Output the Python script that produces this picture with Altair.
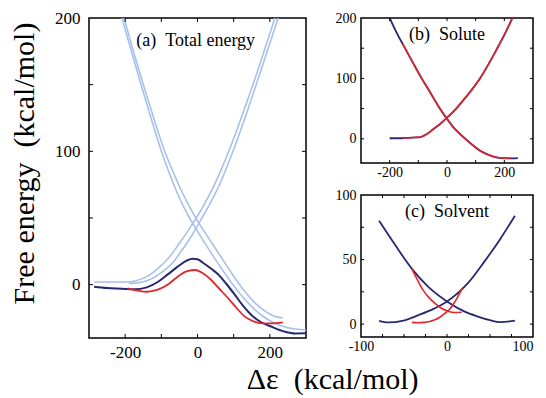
import altair as alt
import pandas as pd

FONT = "Liberation Serif"
NAVY = "#28286f"
RED = "#e2262b"
LIGHT = "#a8c0ec"

# ---------------- Panel (a): total energy ----------------
a_lb1_x = [-286, -240, -200, -170, -140, -110, -80, -50, -20, 10, 47, 85, 130, 172, 214]
a_lb1_y = [2, 2, 2, 3, 6, 12, 20, 31, 43, 56, 75, 99, 132, 165, 200]
a_lb2_x = [-190, -160, -130, -100, -70, -45, -20, 10, 35, 61, 98, 140, 182, 223]
a_lb2_y = [1, 1.5, 4, 9, 16, 25, 35, 49, 61, 75, 100, 132, 166, 200]
a_lb3_x = [-209, -180, -155, -128, -101, -75, -50, -25, 0, 20, 42, 68, 94, 120, 150, 180, 210, 240, 270, 300]
a_lb3_y = [200, 172.5, 149, 124.5, 101, 81.5, 65, 51.5, 40, 31.3, 22, 11.5, 1.5, -7.5, -16.5, -23.5, -28.5, -31.5, -33.3, -34]
a_lb4_x = [-203, -175, -148, -120, -92, -65, -40, -15, 10, 33, 56, 84, 111, 135, 160, 185, 210, 236]
a_lb4_y = [200, 173, 148.5, 124, 101, 83, 68, 55, 43.5, 34, 24.5, 13, 2, -6.5, -14, -19.5, -23.5, -25]
a_navy_x = [-286, -250, -210, -175, -140, -110, -83, -55, -30, -14, 0, 20, 40, 56, 80, 103, 125, 149, 175, 205, 242, 270, 300]
a_navy_y = [-1.5, -2.5, -3, -3.5, -2, 2, 7.5, 13.5, 18, 19.5, 19, 15.5, 11.5, 8, 0.5, -7.5, -15.5, -22.7, -28, -31.6, -35.3, -36.6, -36.5]
a_red_x = [-194, -165, -139, -120, -101, -80, -55, -30, -6, 15, 38, 60, 84, 108, 131, 155, 177, 205, 236]
a_red_y = [-2.8, -4.5, -5.3, -4.5, -2.8, 0.5, 6, 10, 11, 8.5, 3.5, -3, -10, -17.5, -24, -27.5, -29, -29, -28.3]

# ---------------- Panel (b): solute ----------------
b_up_x = [-200, -170, -140, -110, -92, -70, -46, -23, 0, 28, 57, 86, 115, 143, 172, 200, 228]
b_up_y = [1, 1, 1.5, 2.3, 3, 8, 16.7, 25, 35, 48, 64, 81, 100, 122, 147, 172, 200]
b_dn_x = [-200, -175, -150, -120, -92, -60, -30, 0, 28, 57, 86, 115, 145, 172, 200, 225, 247]
b_dn_y = [200, 175, 153, 127, 103, 78, 54, 33, 16, 3, -9, -19.5, -26.5, -30.5, -32, -32.5, -32]
b_red_up_x = [-155, -140, -110, -92, -70, -46, -23, 0, 28, 57, 86, 115, 143, 172, 200, 228]
b_red_up_y = [1.2, 1.5, 2.3, 3, 8, 16.7, 25, 35, 48, 64, 81, 100, 122, 147, 172, 200]
b_red_dn_x = [-155, -150, -120, -92, -60, -30, 0, 28, 57, 86, 115, 145, 172, 200, 222]
b_red_dn_y = [157, 153, 127, 103, 78, 54, 33, 16, 3, -9, -19.5, -26.5, -30.5, -32, -32]

# ---------------- Panel (c): solvent ----------------
c_dn_x = [-79, -60, -41, -22, 0, 20, 35, 50, 62, 79]
c_dn_y = [80, 61, 43, 29, 17.5, 9.8, 6, 3, 1.5, 2.7]
c_up_x = [-79, -68, -52, -33, -15, 0, 24, 43, 62, 79]
c_up_y = [2.5, 1.3, 2.5, 7, 12, 17.5, 31.5, 48, 66, 84]
c_red1_x = [-41, -35, -28, -21, -14, -7, -1, 8, 17]
c_red1_y = [43, 35, 26.5, 20.5, 16, 12.5, 10.5, 9, 9.2]
c_red2_x = [-41, -34, -27, -20, -14, -8, -2, 3, 7, 12, 18]
c_red2_y = [1.3, 1, 1.3, 2, 3.3, 5.5, 8.5, 11.5, 15, 20.5, 28]

LABEL_EXPR = "'' + datum.value"


def make_panel(series, xdom, ydom, w, h, xlab, ylab, xtk, ytk, label, lx, ly,
               lab_size, lab_pad_x, lab_pad_y, tick_len, ytitle=None, ytitle_y=None,
               title_pad=0, x_align=None):
    xs = alt.Scale(domain=xdom, nice=False, zero=False)
    ys = alt.Scale(domain=ydom, nice=False, zero=False)
    xargs = dict(values=xlab, title=None, labelFontSize=lab_size, labelFlush=False,
                 labelPadding=lab_pad_x, labelExpr=LABEL_EXPR, labelFont=FONT)
    if x_align is not None:
        xargs["labelAlign"] = x_align
    xaxis = alt.Axis(**xargs)
    yargs = dict(values=ylab, labelFontSize=lab_size, labelPadding=lab_pad_y,
                 labelFlush=False, labelExpr=LABEL_EXPR, labelFont=FONT)
    if ytitle:
        yargs.update(title=ytitle, titleFontSize=30, titleFont=FONT,
                     titleFontWeight="normal", titlePadding=title_pad, titleY=ytitle_y)
    else:
        yargs.update(title=None)
    yaxis = alt.Axis(**yargs)

    layers = []
    for xv, yv, color, sw in series:
        df = pd.DataFrame({"x": xv, "y": yv})
        layers.append(
            alt.Chart(df).mark_line(color=color, strokeWidth=sw, clip=True,
                                    interpolate="monotone").encode(
                x=alt.X("x:Q", scale=xs, axis=xaxis),
                y=alt.Y("y:Q", scale=ys, axis=yaxis),
            )
        )
    xt = pd.DataFrame({"v": xtk})
    yt = pd.DataFrame({"v": ytk})
    for y0, y1 in [(h, h - tick_len), (0, tick_len)]:
        layers.append(alt.Chart(xt).mark_rule(color="black", strokeWidth=1).encode(
            x=alt.X("v:Q", scale=xs, axis=xaxis), y=alt.value(y0), y2=alt.value(y1)))
    for x0, x1 in [(0, tick_len), (w, w - tick_len)]:
        layers.append(alt.Chart(yt).mark_rule(color="black", strokeWidth=1).encode(
            y=alt.Y("v:Q", scale=ys, axis=yaxis), x=alt.value(x0), x2=alt.value(x1)))
    ldf = pd.DataFrame({"x": [lx], "y": [ly], "t": [label]})
    layers.append(alt.Chart(ldf).mark_text(font=FONT, fontSize=18, color="black",
                                           align="center", baseline="middle").encode(
        x=alt.X("x:Q", scale=xs, axis=xaxis), y=alt.Y("y:Q", scale=ys, axis=yaxis), text="t:N"))
    return alt.layer(*layers).properties(width=w, height=h)


pa = make_panel(
    [(a_lb1_x, a_lb1_y, LIGHT, 1.6), (a_lb2_x, a_lb2_y, LIGHT, 1.6),
     (a_lb3_x, a_lb3_y, LIGHT, 1.6), (a_lb4_x, a_lb4_y, LIGHT, 1.6),
     (a_navy_x, a_navy_y, NAVY, 2), (a_red_x, a_red_y, RED, 1.8)],
    [-300, 300], [-40, 200], 217, 320, [-200, 0, 200], [0, 100, 200],
    [-200, -100, 0, 100, 200], [0, 50, 100, 150],
    "(a)\u00a0\u00a0Total energy", -5, 183, 17, 6, 9, 4,
    ytitle="Free energy\u00a0\u00a0(kcal/mol)", ytitle_y=145, title_pad=15)

pb = make_panel(
    [(b_up_x, b_up_y, NAVY, 1.8), (b_dn_x, b_dn_y, NAVY, 1.8),
     (b_red_up_x, b_red_up_y, RED, 1.6), (b_red_dn_x, b_red_dn_y, RED, 1.6)],
    [-300, 300], [-40, 200], 172, 145, [-200, 0, 200], [0, 100, 200],
    [-200, -100, 0, 100, 200], [0, 50, 100, 150],
    "(b)\u00a0\u00a0Solute", 0, 172, 14, 2, 5, 3)

pc = make_panel(
    [(c_dn_x, c_dn_y, NAVY, 1.8), (c_up_x, c_up_y, NAVY, 1.8),
     (c_red1_x, c_red1_y, RED, 1.6), (c_red2_x, c_red2_y, RED, 1.6)],
    [-100, 100], [-10, 100], 172, 142, [-100, 0, 100], [0, 50, 100],
    [-75, -50, -25, 0, 25, 50, 75], [0, 25, 50, 75],
    "(c)\u00a0\u00a0Solvent", 0, 87, 14, 2, 5, 3,
    x_align=alt.condition("datum.value == 100", alt.value("right"), alt.value("center")))

right = alt.vconcat(pb, pc, spacing=32, bounds="flush")
chart = alt.hconcat(pa, right, spacing=55, bounds="flush").properties(
    title=alt.TitleParams("\u0394\u03b5\u00a0\u00a0(kcal/mol)", orient="bottom", anchor="start",
                          dx=238, offset=4, fontSize=30, font=FONT, fontWeight="normal",
                          color="black"),
    padding=0,
).configure_view(stroke="black", strokeWidth=1.5).configure_axis(
    domain=False, ticks=False, grid=False, labelColor="black", titleColor="black",
    labelFont=FONT, titleFont=FONT
)

chart.save("out.html", embed_options={"renderer": "svg", "actions": False})
